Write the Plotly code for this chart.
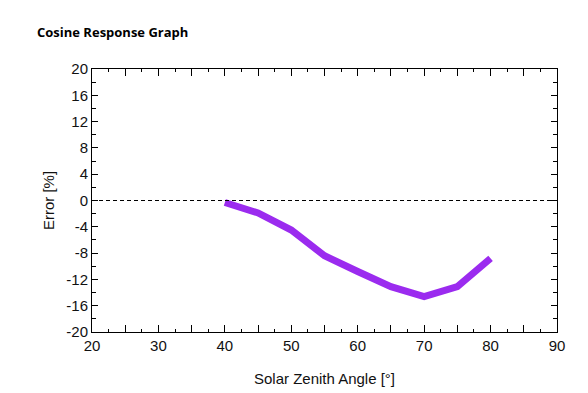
import plotly.graph_objects as go

angles = [40, 45, 50, 55, 60, 65, 70, 75, 80]
errors = [-0.3, -1.9, -4.5, -8.4, -10.8, -13.1, -14.6, -13.1, -8.8]

x_tickvals = [20, 25, 30, 35, 40, 45, 50, 55, 60, 65, 70, 75, 80, 85, 90]
x_ticktext = ["20", "", "30", "", "40", "", "50", "", "60", "", "70", "", "80", "", "90"]
y_tickvals = [-20, -16, -12, -8, -4, 0, 4, 8, 12, 16, 20]
y_ticktext = ["-20", "-16", "-12", "-8", "-4", "0", "4", "8", "12", "16", "20"]

W, H = 580, 385

fig = go.Figure()
fig.add_trace(go.Scatter(
    x=angles, y=errors, mode="lines",
    line=dict(color="#9B2BEF", width=7),
    showlegend=False,
))
fig.add_shape(type="line", xref="paper", yref="y", x0=0, x1=1, y0=0, y1=0,
              line=dict(color="black", width=1, dash="4px,3px"))

axis_font = dict(family="Liberation Sans, Arial, sans-serif", size=15, color="#111")

fig.update_layout(
    width=W, height=H,
    margin=dict(l=84, r=31, t=61, b=61),
    paper_bgcolor="white", plot_bgcolor="white",
    title=dict(text="<b>Cosine Response Graph</b>", x=29/W, xanchor="left",
               y=1 - 24/H, yanchor="middle",
               font=dict(family="Open Sans, Lato, sans-serif", size=13, color="black")),
    xaxis=dict(
        range=[20, 90], tickmode="array", tickvals=x_tickvals, ticktext=x_ticktext,
        ticks="inside", ticklen=7, tickcolor="black", tickwidth=1,
        showline=True, linecolor="black", linewidth=1, mirror="allticks",
        showgrid=False, zeroline=False, tickfont=axis_font, automargin=False,
        minor=dict(dtick=2.5, tick0=20, ticks="inside", ticklen=3, tickcolor="black", showgrid=False),
        title=dict(text="Solar Zenith Angle [°]", font=axis_font, standoff=20),
    ),
    yaxis=dict(
        range=[-20, 20], tickmode="array", tickvals=y_tickvals, ticktext=y_ticktext,
        ticks="inside", ticklen=6, tickcolor="black", tickwidth=1,
        showline=True, linecolor="black", linewidth=1, mirror="allticks",
        showgrid=False, zeroline=False, tickfont=axis_font, automargin=False,
        minor=dict(dtick=2, tick0=-20, ticks="inside", ticklen=4, tickcolor="black", showgrid=False),
        title=dict(text="Error [%]", font=axis_font, standoff=8),
    ),
)

fig.write_html("out.html")
